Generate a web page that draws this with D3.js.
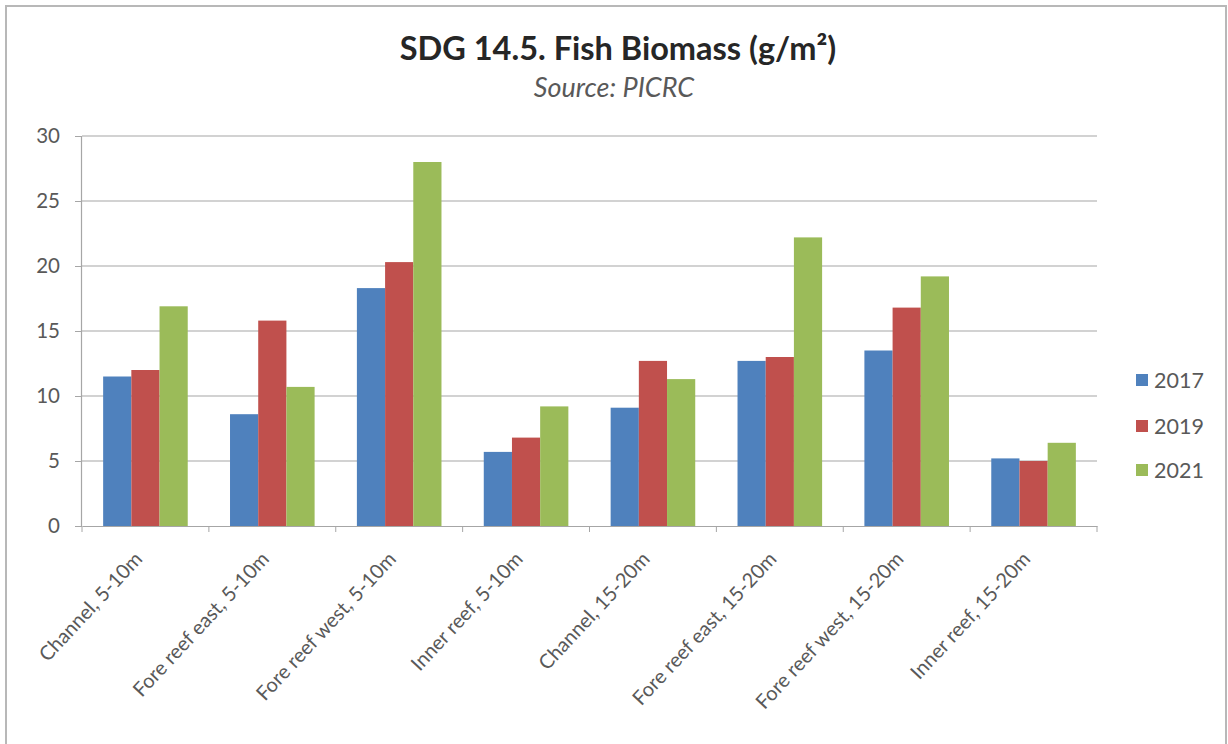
<!DOCTYPE html>
<html>
<head>
<meta charset="utf-8">
<script src="https://cdn.jsdelivr.net/npm/d3@7"></script>
<style>
html,body{margin:0;padding:0;background:#fff;}
svg{display:block;}
</style>
</head>
<body>
<svg id="chart" width="1228" height="744"></svg>
<script>
const categories = ["Channel, 5-10m","Fore reef east, 5-10m","Fore reef west, 5-10m","Inner reef, 5-10m","Channel, 15-20m","Fore reef east, 15-20m","Fore reef west, 15-20m","Inner reef, 15-20m"];
const seriesNames = ["2017","2019","2021"];
const values2017 = [11.5, 8.6, 18.3, 5.7, 9.1, 12.7, 13.5, 5.2];
const values2019 = [12.0, 15.8, 20.3, 6.8, 12.7, 13.0, 16.8, 5.0];
const values2021 = [16.9, 10.7, 28.0, 9.2, 11.3, 22.2, 19.2, 6.4];
const yTicks = [0, 5, 10, 15, 20, 25, 30];
const colors = ["#4F81BD", "#C0504D", "#9BBB59"];
const titleText = "SDG 14.5. Fish Biomass (g/m²)";
const subtitleText = "Source: PICRC";

(function () {
const series = [values2017, values2019, values2021];
const svg = d3.select("#chart");
const font = "Lato, 'Open Sans', sans-serif";

// outer frame
svg.append("rect").attr("x",0).attr("y",0).attr("width",1228).attr("height",744).attr("fill","#fff");
svg.append("path").attr("d","M6,744 V6 H1226 V744").attr("fill","none").attr("stroke","#b8b8b8").attr("stroke-width",2);

const pLeft = 82, pRight = 1097, pTop = 136, pBottom = 526;
const x = d3.scaleBand().domain(categories).range([pLeft, pRight]).paddingInner(0).paddingOuter(0);
const inner = d3.scaleBand().domain(seriesNames).range([0, x.bandwidth()]).paddingInner(0).paddingOuter(0.75);
const y = d3.scaleLinear().domain([0, 30]).range([pBottom, pTop]);

// gridlines
svg.append("g").selectAll("line").data(yTicks.filter(d => d > 0)).join("line")
  .attr("x1", pLeft).attr("x2", pRight)
  .attr("y1", d => y(d)).attr("y2", d => y(d))
  .attr("stroke", "#a6a6a6").attr("stroke-width", 1.2);

// bars
series.forEach((vals, si) => {
  svg.append("g").selectAll("rect").data(vals).join("rect")
    .attr("x", (d, i) => x(categories[i]) + inner(seriesNames[si]))
    .attr("width", inner.bandwidth())
    .attr("y", d => y(d))
    .attr("height", d => y(0) - y(d))
    .attr("fill", colors[si]);
});

// y axis
const yAxis = svg.append("g").attr("transform", `translate(${pLeft},0)`)
  .call(d3.axisLeft(y).tickValues(yTicks).tickSize(7).tickPadding(15));
yAxis.select(".domain").attr("stroke", "#a6a6a6").attr("stroke-width", 1.2).attr("d", `M-0.5,${pTop}V${pBottom}`);
yAxis.selectAll(".tick line").attr("stroke", "#a6a6a6");
yAxis.selectAll(".tick text").attr("fill", "#595959").style("font-family", font).style("font-size", "20.5px");

// x axis
const xAxis = svg.append("g").attr("transform", `translate(0,${pBottom})`)
  .call(d3.axisBottom(x).tickSize(0).tickFormat(""));
xAxis.select(".domain").attr("stroke", "#a6a6a6").attr("stroke-width", 1.2);
xAxis.selectAll(".tick").remove();
const bounds = categories.map(c => x(c)).concat([pRight]);
svg.append("g").selectAll("line").data(bounds).join("line")
  .attr("x1", d => d).attr("x2", d => d)
  .attr("y1", pBottom).attr("y2", pBottom + 6)
  .attr("stroke", "#a6a6a6");

// x labels
svg.append("g").selectAll("text").data(categories).join("text")
  .attr("transform", d => `translate(${x(d) + x.bandwidth()/2 - 2},${pBottom + 34}) rotate(-47)`)
  .attr("text-anchor", "end")
  .attr("fill", "#595959")
  .style("font-family", font).style("font-size", "20px")
  .text(d => d);

// title
svg.append("text").attr("x", 618).attr("y", 60).attr("text-anchor", "middle")
  .attr("fill", "#262626").style("font-family", font).style("font-size", "32.5px").style("font-weight", "bold")
  .text(titleText);
svg.append("text").attr("x", 614).attr("y", 97).attr("text-anchor", "middle")
  .attr("fill", "#595959").style("font-family", font).style("font-size", "27px").style("font-style", "italic")
  .text(subtitleText);

// legend
const legY = [380, 426, 470];
const leg = svg.append("g").selectAll("g").data(seriesNames).join("g")
  .attr("transform", (d, i) => `translate(1136,${legY[i]})`);
leg.append("rect").attr("x", 0).attr("y", -6).attr("width", 12).attr("height", 12).attr("fill", (d, i) => colors[i]);
leg.append("text").attr("x", 18).attr("y", 0).attr("dy", "0.36em")
  .attr("fill", "#595959").style("font-family", font).style("font-size", "21.5px").text(d => d);
})();
</script>
</body>
</html>
